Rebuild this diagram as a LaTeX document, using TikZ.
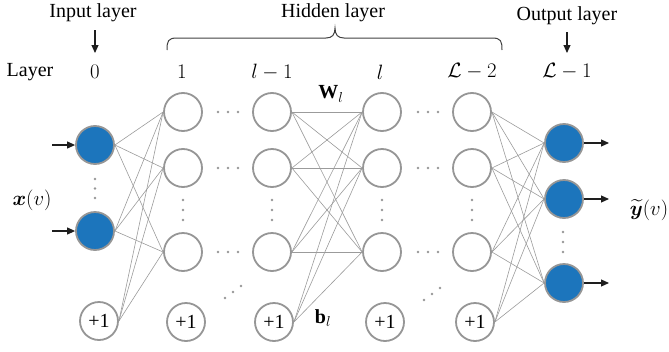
\documentclass[tikz,border=0pt]{standalone}
\usepackage{amsmath,bm}
\usepackage{fontspec}
\setmainfont{Liberation Serif}
\usetikzlibrary{arrows.meta}
\definecolor{nodegray}{RGB}{150,150,150}
\definecolor{nodeblue}{RGB}{28,117,188}
\definecolor{linegray}{RGB}{155,155,155}
\definecolor{arrblack}{RGB}{30,30,30}
\tikzset{
  neuron/.style={circle, draw=nodegray, line width=1.8pt, minimum size=38pt, inner sep=0pt, fill=white},
  ioneuron/.style={neuron, fill=nodeblue},
  biasneuron/.style={neuron, font=\fontsize{20}{22}\selectfont},
  conn/.style={draw=linegray, line width=0.6pt},
  dotmark/.style={circle, fill=nodegray, inner sep=0pt, minimum size=2.6pt},
  arr/.style={draw=arrblack, line width=1.1pt, -{Triangle[length=8pt,width=7pt]}},
  lab/.style={inner sep=0pt, font=\fontsize{20}{24}\selectfont},
  bracestyle/.style={draw=black!75, line width=1pt}
}
\begin{document}
\begin{tikzpicture}[x=1pt,y=-1pt]
\useasboundingbox (0,0) rectangle (669,351);
% labels
\node[lab] (inlab) at (93,13) {Input layer};
\node[lab] (hidlab) at (333,13) {Hidden layer};
\node[lab] (outlab) at (567,16) {Output layer};
\node[lab] (layer) at (30,72) {Layer};
\node[lab] (lab0) at (95,72) {$0$};
\node[lab] (lab1) at (182,72) {$1$};
\node[lab] (lab2) at (272,72) {$l-1$};
\node[lab] (lab3) at (380,72) {$l$};
\node[lab] (lab4) at (472,71) {$\mathcal{L}-2$};
\node[lab] (lab5) at (567,71) {$\mathcal{L}-1$};
\node[lab] (wl) at (331,94) {$\mathbf{W}_l$};
\node[lab] (bl) at (323,318) {$\mathbf{b}_l$};
\node[lab] (xv) at (32,200) {$\bm{x}(v)$};
\node[lab] (yv) at (649,210) {$\widetilde{\bm{y}}(v)$};
% brace
\draw[bracestyle] (167,50) .. controls (167,41) and (168,38) .. (177,38) -- (326,38)
  .. controls (332,38) and (335,35) .. (335,28)
  .. controls (335,35) and (338,38) .. (344,38) -- (492,38)
  .. controls (501,38) and (502,41) .. (502,50);
% top arrows
\coordinate (ia1) at (95,30);
\coordinate (ia2) at (95,53);
\coordinate (oa1) at (567,32);
\coordinate (oa2) at (567,53);
\draw[arr] (ia1) -- (ia2);
\draw[arr] (oa1) -- (oa2);
% nodes
\node[ioneuron] (i1) at (95,145) {};
\node[ioneuron] (i2) at (95,231) {};
\node[biasneuron] (b0) at (99,321) {+1};
\node[neuron] (h1) at (183,112) {};
\node[neuron] (h2) at (183,168) {};
\node[neuron] (h3) at (183,252) {};
\node[biasneuron] (hb) at (186,322) {+1};
\node[neuron] (p1) at (272,112) {};
\node[neuron] (p2) at (272,168) {};
\node[neuron] (p3) at (272,252) {};
\node[biasneuron] (pb) at (274,322) {+1};
\node[neuron] (q1) at (382,112) {};
\node[neuron] (q2) at (382,168) {};
\node[neuron] (q3) at (382,252) {};
\node[biasneuron] (qb) at (385,322) {+1};
\node[neuron] (r1) at (472,112) {};
\node[neuron] (r2) at (472,168) {};
\node[neuron] (r3) at (472,252) {};
\node[biasneuron] (rb) at (475,322) {+1};
\node[ioneuron] (o1) at (564,143) {};
\node[ioneuron] (o2) at (564,199) {};
\node[ioneuron] (o3) at (564,283) {};
% connections
\foreach \s in {i1,i2,b0} \foreach \t in {h1,h2,h3} \draw[conn] (\s.east) -- (\t.west);
\foreach \s in {p1,p2,p3,pb} \foreach \t in {q1,q2,q3} \draw[conn] (\s.east) -- (\t.west);
\foreach \s in {r1,r2,r3,rb} \foreach \t in {o1,o2,o3} \draw[conn] (\s.east) -- (\t.west);
% input / output arrows
\coordinate (xa1) at (52,145);
\coordinate (xa2) at (52,231);
\draw[arr] (xa1) -- (i1.west);
\draw[arr] (xa2) -- (i2.west);
\coordinate (ya1) at (609,143);
\coordinate (ya2) at (609,199);
\coordinate (ya3) at (609,283);
\draw[arr] (o1.east) -- (ya1);
\draw[arr] (o2.east) -- (ya2);
\draw[arr] (o3.east) -- (ya3);
% dots
\foreach \y in {179,188.5,198} \node[dotmark] at (95,\y) {};
\foreach \y in {232,242,252} \node[dotmark] at (563,\y) {};
\foreach \x in {183,272,382,472} \foreach \y in {200,210,220} \node[dotmark] at (\x,\y) {};
\foreach \y in {112,168,252} {
  \foreach \x in {218,228,238} \node[dotmark] at (\x,\y) {};
  \foreach \x in {418,428,438} \node[dotmark] at (\x,\y) {};
}
\foreach \x/\y in {225/298,233/292,241/286,424/300,432/294,440/288} \node[dotmark] at (\x,\y) {};
\end{tikzpicture}
\end{document}
